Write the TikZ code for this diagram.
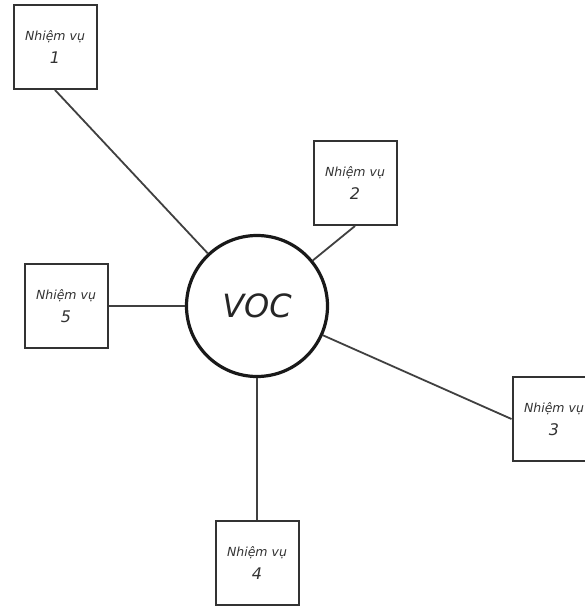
\documentclass[tikz,border=0pt]{standalone}
\usepackage{fontspec}
\setmainfont{DejaVu Sans}
\begin{document}
\begin{tikzpicture}[x=1pt,y=-1pt,
  taskbox/.style={draw=black!80, line width=2pt, fill=white,
    minimum width=83pt, minimum height=84pt, inner sep=0pt,
    align=center, text=black!80, font=\itshape\fontsize{12.5}{23}\selectfont},
  hub/.style={circle, draw=black!90, line width=3.2pt, fill=white,
    minimum size=141pt, inner sep=0pt, text=black!85,
    font=\itshape\fontsize{32}{36}\selectfont},
  link/.style={draw=black!75, line width=1.8pt}]
\useasboundingbox (0,0) rectangle (585,606);
\fill[white] (0,0) rectangle (585,606);
% centre circle
\node[hub] (voc) at (257,306) {VOC};
% task boxes
\node[taskbox] (b1) at (55,47)   {Nhiệm vụ\\{\fontsize{16}{16}\selectfont 1}};
\node[taskbox] (b2) at (355,183) {Nhiệm vụ\\{\fontsize{16}{16}\selectfont 2}};
\node[taskbox] (b3) at (554,419) {Nhiệm vụ\\{\fontsize{16}{16}\selectfont 3}};
\node[taskbox] (b4) at (257,563) {Nhiệm vụ\\{\fontsize{16}{16}\selectfont 4}};
\node[taskbox] (b5) at (66,306)  {Nhiệm vụ\\{\fontsize{16}{16}\selectfont 5}};
% connectors
\draw[link] (b1.south) -- (voc);
\draw[link] (b2.south) -- (voc);
\draw[link] (voc) -- (b3.west);
\draw[link] (voc) -- (b4.north);
\draw[link] (b5.east) -- (voc);
\end{tikzpicture}
\end{document}
